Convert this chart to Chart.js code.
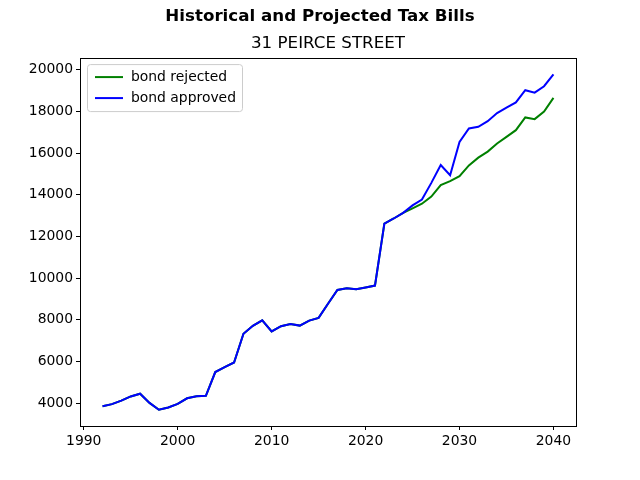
<!DOCTYPE html>
<html>
<head>
<meta charset="utf-8">
<script src="https://cdn.jsdelivr.net/npm/chart.js@4/dist/chart.umd.min.js"></script>
<style>
  html, body { margin: 0; padding: 0; background: #fff; }
  #wrap { width: 640px; height: 480px; }
</style>
</head>
<body>
<div id="wrap"><canvas id="chart" width="640" height="480"></canvas></div>
<script>
// tax bill by year, both scenarios share history up to 2024
const years = [
    1992, 1993, 1994, 1995, 1996, 1997, 1998, 1999, 2000, 2001,
    2002, 2003, 2004, 2005, 2006, 2007, 2008, 2009, 2010, 2011,
    2012, 2013, 2014, 2015, 2016, 2017, 2018, 2019, 2020, 2021,
    2022, 2023, 2024, 2025, 2026, 2027, 2028, 2029, 2030, 2031,
    2032, 2033, 2034, 2035, 2036, 2037, 2038, 2039, 2040,
];
const bondRejected = [
    3850, 3950, 4120, 4320, 4450, 4010, 3680, 3790, 3960, 4230,
    4330, 4350, 5490, 5730, 5950, 7330, 7710, 7970, 7440, 7690,
    7800, 7720, 7960, 8090, 8770, 9430, 9510, 9460, 9550, 9640,
    12610, 12860, 13130, 13350, 13570, 13910, 14460, 14650, 14890, 15410,
    15780, 16070, 16460, 16780, 17100, 17710, 17630, 17990, 18650,
];
const bondApproved = [
    3850, 3950, 4120, 4320, 4450, 4010, 3680, 3790, 3960, 4230,
    4330, 4350, 5490, 5730, 5950, 7330, 7710, 7970, 7440, 7690,
    7800, 7720, 7960, 8090, 8770, 9430, 9510, 9460, 9550, 9640,
    12610, 12860, 13130, 13490, 13770, 14570, 15430, 14940, 16530, 17180,
    17260, 17530, 17920, 18180, 18430, 19020, 18900, 19210, 19780,
];
const xTicks = [1990, 2000, 2010, 2020, 2030, 2040];
const yTicks = [4000, 6000, 8000, 10000, 12000, 14000, 16000, 18000, 20000];

const FONT = "'DejaVu Sans', sans-serif";

const toPoints = (vals) => years.map((yr, i) => ({ x: yr, y: vals[i] }));

// matplotlib-ish frame + legend in the upper-left of the plot area
const framePlugin = {
    id: "frame",
    afterDatasetsDraw(chart) {
        const { ctx, chartArea: a } = chart;
        ctx.save();
        ctx.strokeStyle = "#000";
        ctx.lineWidth = 1;
        ctx.strokeRect(Math.round(a.left) + 0.5, Math.round(a.top) + 0.5,
            Math.round(a.right - a.left), Math.round(a.bottom - a.top));
        ctx.restore();
    },
    afterDraw(chart) {
        const { ctx, chartArea: a } = chart;
        const sets = chart.data.datasets;
        const x0 = a.left + 7, y0 = a.top + 6;
        const rowH = 21, w = 155, h = 47;
        ctx.save();
        ctx.fillStyle = "rgba(255,255,255,0.8)";
        ctx.strokeStyle = "#cccccc";
        ctx.lineWidth = 1;
        ctx.beginPath();
        ctx.roundRect(x0 + 0.5, y0 + 0.5, w, h, 3);
        ctx.fill();
        ctx.stroke();
        ctx.font = "13.9px " + FONT;
        ctx.textBaseline = "middle";
        sets.forEach((ds, i) => {
            const cy = y0 + 13 + i * rowH;
            ctx.strokeStyle = ds.borderColor;
            ctx.lineWidth = 2;
            ctx.beginPath();
            ctx.moveTo(x0 + 8, cy);
            ctx.lineTo(x0 + 36, cy);
            ctx.stroke();
            ctx.fillStyle = "#000";
            ctx.fillText(ds.label, x0 + 44, cy);
        });
        ctx.restore();
    },
};

new Chart("chart", {
    type: "line",
    data: {
        datasets: [
            {
                label: "bond rejected",
                data: toPoints(bondRejected),
                borderColor: "#008000",
                borderWidth: 2,
                pointRadius: 0,
                tension: 0,
                order: 2,
            },
            {
                label: "bond approved",
                data: toPoints(bondApproved),
                borderColor: "#0000ff",
                borderWidth: 2,
                pointRadius: 0,
                tension: 0,
                order: 1,
            },
        ],
    },
    options: {
        responsive: false,
        animation: false,
        layout: { padding: 0 },
        scales: {
            x: {
                type: "linear",
                min: 1989.6,
                max: 2042.4,
                afterBuildTicks: (s) => { s.ticks = xTicks.map((v) => ({ value: v })); },
                afterFit: (s) => { s.height = 54; },
                grid: { drawOnChartArea: false, tickLength: 4, color: "#000", tickWidth: 1 },
                border: { color: "#000" },
                ticks: {
                    color: "#000",
                    padding: 3,
                    maxRotation: 0,
                    font: { family: FONT, size: 13.9 },
                    callback: (v) => String(v),
                },
            },
            y: {
                min: 2900,
                max: 20560,
                afterBuildTicks: (s) => { s.ticks = yTicks.map((v) => ({ value: v })); },
                afterFit: (s) => { s.width = 80; },
                grid: { drawOnChartArea: false, tickLength: 4, color: "#000", tickWidth: 1 },
                border: { color: "#000" },
                ticks: {
                    color: "#000",
                    padding: 3,
                    font: { family: FONT, size: 13.9 },
                    callback: (v) => String(v),
                },
            },
            // empty right-hand spacer so the figure title can centre on the whole canvas
            spacer: {
                type: "linear",
                position: "right",
                display: true,
                grid: { display: false },
                border: { display: false },
                ticks: { display: false },
                afterFit: (s) => { s.width = 64; },
            },
        },
        plugins: {
            legend: { display: false },
            tooltip: { enabled: false },
            title: {
                display: true,
                fullSize: true,
                text: "Historical and Projected Tax Bills",
                color: "#000",
                font: { family: FONT, size: 16.7, weight: "bold" },
                padding: { top: 7, bottom: 3 },
            },
            subtitle: {
                display: true,
                fullSize: false,
                text: "31 PEIRCE STREET",
                color: "#000",
                font: { family: FONT, size: 16.7, weight: "normal" },
                padding: { top: 4, bottom: 4 },
            },
        },
    },
    plugins: [framePlugin],
});
</script>
</body>
</html>
